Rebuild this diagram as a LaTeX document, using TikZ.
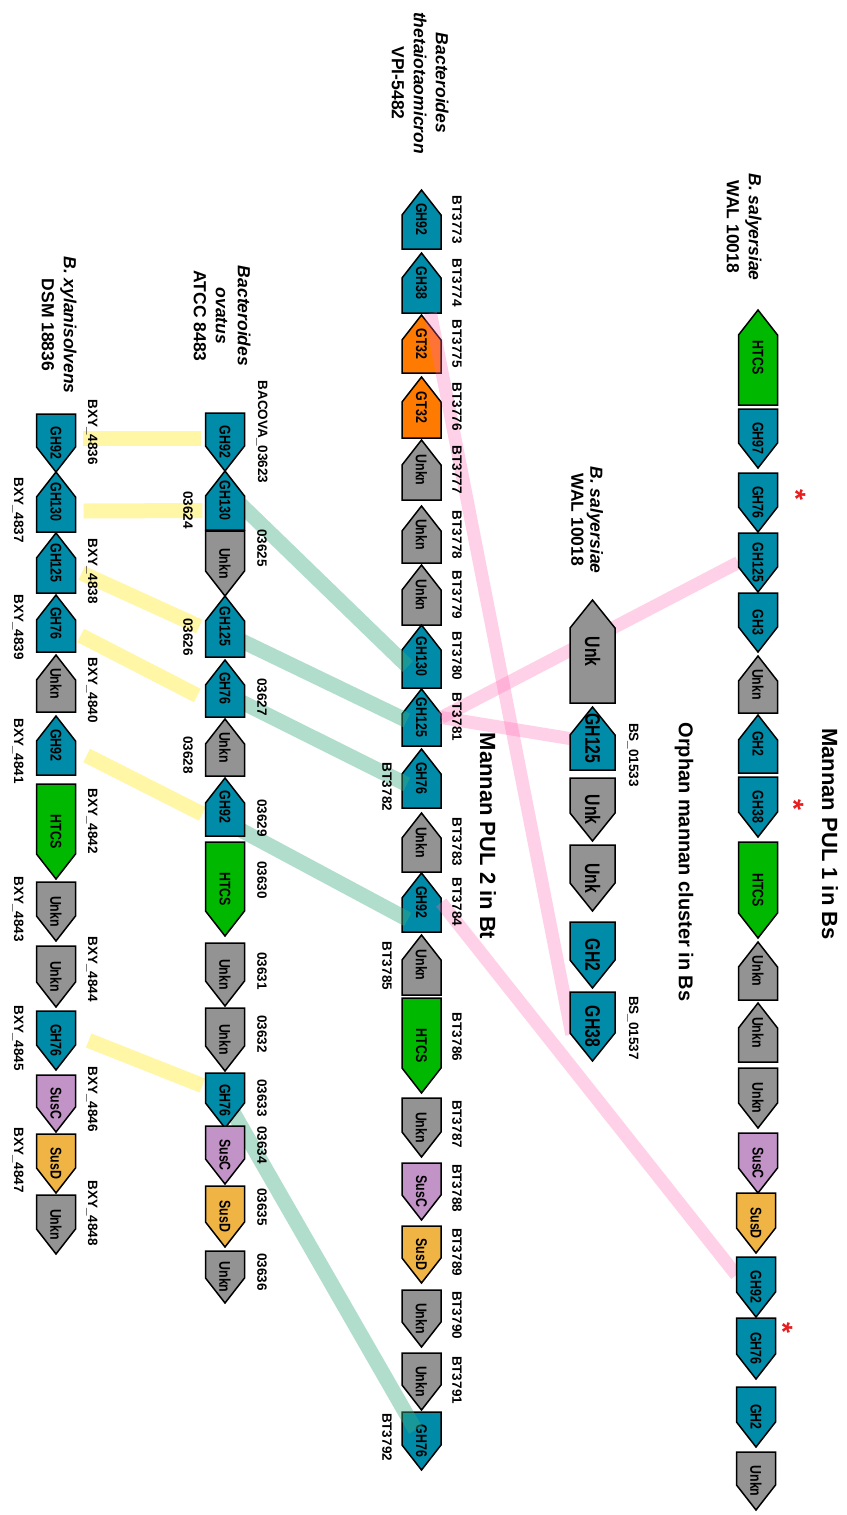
\documentclass[tikz,border=0pt]{standalone}
\usepackage{fontspec}
\setmainfont{Liberation Sans}
\usepackage{graphicx}
\usetikzlibrary{calc}
\definecolor{ghteal}{RGB}{0,140,168}
\definecolor{htcsgreen}{RGB}{0,184,0}
\definecolor{gtorange}{RGB}{255,122,0}
\definecolor{unkgray}{RGB}{147,147,147}
\definecolor{suscpurple}{RGB}{193,147,198}
\definecolor{susdgold}{RGB}{240,180,69}
\definecolor{linkpink}{RGB}{255,105,180}
\definecolor{linkgreen}{RGB}{60,170,130}
\definecolor{linkyellow}{RGB}{255,230,0}
\definecolor{starred}{RGB}{230,30,30}

\pgfdeclarelayer{btcol}
\pgfdeclarelayer{links}
\pgfsetlayers{btcol,links,main}

\tikzset{
  genebox/.style={draw=black, line width=1.5pt, line join=miter},
  genetxt/.style={inner sep=0pt, font=\fontsize{\gsz}{\gsz}\selectfont\bfseries},
  idtxt/.style={rotate=-90, inner sep=0pt, font=\fontsize{13.5}{14}\selectfont\bfseries},
  species/.style={rotate=-90, align=center, inner sep=0pt, font=\fontsize{17.5}{22}\selectfont\bfseries},
  titletxt/.style={rotate=-90, inner sep=0pt, font=\fontsize{22}{24}\selectfont\bfseries},
  astx/.style={rotate=-90, inner sep=0pt, text=starred, font=\fontsize{28}{28}\selectfont\bfseries},
  pinklink/.style={line width=13pt, linkpink, opacity=0.3},
  greenlink/.style={line width=15pt, linkgreen, opacity=0.4},
  yellowlink/.style={line width=15pt, linkyellow, opacity=0.35},
}

% arrow width, head length, label size and squeeze
\newcommand{\gw}{39}
\newcommand{\gh}{25}
\newcommand{\gsz}{15.5}
\newcommand{\gsc}{0.8}
% \gene{name}{x}{top}{bottom}{f|r}{colour}{label}
\newcommand{\gene}[7]{%
  \if#5f
    \draw[genebox, fill=#6] ({#2-\gw/2},#3) -- ({#2+\gw/2},#3) -- ({#2+\gw/2},{#4-\gh}) -- (#2,#4) -- ({#2-\gw/2},{#4-\gh}) -- cycle;
  \else
    \draw[genebox, fill=#6] (#2,#3) -- ({#2+\gw/2},{#3+\gh}) -- ({#2+\gw/2},#4) -- ({#2-\gw/2},#4) -- ({#2-\gw/2},{#3+\gh}) -- cycle;
  \fi
  \node[genetxt, minimum width=\gw pt, minimum height={(#4-#3)*1pt}] (#1) at (#2,{(#3+#4)/2}) {\rotatebox{-90}{\scalebox{\gsc}[1]{#7}}};
}

\begin{document}
\begin{tikzpicture}[x=1pt, y=-1pt]
  \useasboundingbox (0,0) rectangle (846,1515);

  \begin{pgfonlayer}{btcol}
  \fill[white] (0,0) rectangle (846,1515);
  % Mannan PUL 2, B. thetaiotaomicron
  \gene{b73}{421.5}{190}{249}{r}{ghteal}{GH92}
  \gene{b74}{421.5}{253}{313}{r}{ghteal}{GH38}
  \gene{b75}{421.5}{315}{373}{r}{gtorange}{GT32}
  \gene{b76}{421.5}{377}{438}{r}{gtorange}{GT32}
  \gene{b77}{421.5}{440}{500}{r}{unkgray}{Unkn}
  \gene{b78}{421.5}{506}{563}{r}{unkgray}{Unkn}
  \gene{b79}{421.5}{565}{625}{r}{unkgray}{Unkn}
  \gene{b80}{421.5}{625}{688}{r}{ghteal}{GH130}
  \gene{b81}{421.5}{689}{746}{r}{ghteal}{GH125}
  \gene{b82}{421.5}{749}{808}{r}{ghteal}{GH76}
  \gene{b83}{421.5}{813}{872}{r}{unkgray}{Unkn}
  \gene{b84}{421.5}{873}{932}{r}{ghteal}{GH92}
  \gene{b85}{421.5}{935}{995}{r}{unkgray}{Unkn}
  \gene{b86}{421.5}{998}{1093}{f}{htcsgreen}{HTCS}
  \gene{b87}{421.5}{1098}{1157}{f}{unkgray}{Unkn}
  \gene{b88}{421.5}{1163}{1220}{f}{suscpurple}{SusC}
  \gene{b89}{421.5}{1226}{1283}{f}{susdgold}{SusD}
  \gene{b90}{421.5}{1290}{1347}{f}{unkgray}{Unkn}
  \gene{b91}{421.5}{1353}{1410}{f}{unkgray}{Unkn}
  \gene{b92}{421.5}{1412}{1470}{f}{ghteal}{GH76}
  \end{pgfonlayer}

  % Mannan PUL 1, B. salyersiae
  \gene{p1}{758}{310}{405}{r}{htcsgreen}{HTCS}
  \gene{p2}{758}{409}{468}{f}{ghteal}{GH97}
  \gene{p3}{758}{473}{532}{f}{ghteal}{GH76}
  \gene{p4}{758}{533}{592}{f}{ghteal}{GH125}
  \gene{p5}{758}{593}{652}{f}{ghteal}{GH3}
  \gene{p6}{758}{656}{713}{r}{unkgray}{Unkn}
  \gene{p7}{758}{715}{773}{r}{ghteal}{GH2}
  \gene{p8}{758}{777}{837}{f}{ghteal}{GH38}
  \gene{p9}{758}{842}{938}{f}{htcsgreen}{HTCS}
  \gene{p10}{758}{942}{1000}{r}{unkgray}{Unkn}
  \gene{p11}{758}{1003}{1062}{r}{unkgray}{Unkn}
  \gene{p12}{758}{1068}{1128}{f}{unkgray}{Unkn}
  \gene{p13}{758}{1133}{1193}{f}{suscpurple}{SusC}
  \gene{p14}{756}{1193}{1253}{f}{susdgold}{SusD}
  \gene{p15}{756}{1257}{1317}{f}{ghteal}{GH92}
  \gene{p16}{756}{1318}{1379}{f}{ghteal}{GH76}
  \gene{p17}{756}{1387}{1447}{f}{ghteal}{GH2}
  \gene{p18}{756}{1452}{1510}{f}{unkgray}{Unkn}

  % B. ovatus
  \gene{o23}{225}{413}{471}{f}{ghteal}{GH92}
  \gene{o24}{225}{471}{530}{r}{ghteal}{GH130}
  \gene{o25}{225}{531}{596}{f}{unkgray}{Unkn}
  \gene{o26}{225}{596}{657}{r}{ghteal}{GH125}
  \gene{o27}{225}{660}{717}{r}{ghteal}{GH76}
  \gene{o28}{225}{719}{776}{r}{unkgray}{Unkn}
  \gene{o29}{225}{778}{836}{r}{ghteal}{GH92}
  \gene{o30}{225}{842}{936}{f}{htcsgreen}{HTCS}
  \gene{o31}{225}{943}{1006}{f}{unkgray}{Unkn}
  \gene{o32}{225}{1008}{1071}{f}{unkgray}{Unkn}
  \gene{o33}{225}{1073}{1128}{f}{ghteal}{GH76}
  \gene{o34}{225}{1126}{1184}{f}{suscpurple}{SusC}
  \gene{o35}{225}{1186}{1247}{f}{susdgold}{SusD}
  \gene{o36}{225}{1251}{1303}{f}{unkgray}{Unkn}

  % B. xylanisolvens
  \gene{x36}{56}{414}{472}{f}{ghteal}{GH92}
  \gene{x37}{56}{472}{532}{r}{ghteal}{GH130}
  \gene{x38}{56}{533}{593}{r}{ghteal}{GH125}
  \gene{x39}{56}{595}{652}{r}{ghteal}{GH76}
  \gene{x40}{56}{655}{712}{r}{unkgray}{Unkn}
  \gene{x41}{56}{716}{775}{r}{ghteal}{GH92}
  \gene{x42}{56}{784}{879}{f}{htcsgreen}{HTCS}
  \gene{x43}{56}{882}{941}{f}{unkgray}{Unkn}
  \gene{x44}{56}{946}{1007}{f}{unkgray}{Unkn}
  \gene{x45}{56}{1011}{1070}{f}{ghteal}{GH76}
  \gene{x46}{56}{1075}{1132}{f}{suscpurple}{SusC}
  \gene{x47}{56}{1134}{1193}{f}{susdgold}{SusD}
  \gene{x48}{56}{1195}{1254}{f}{unkgray}{Unkn}

  % orphan cluster, wider arrows
  \renewcommand{\gw}{45}\renewcommand{\gh}{28}
  \renewcommand{\gsz}{21}\renewcommand{\gsc}{0.75}
  \gene{c1}{592.5}{600}{703}{r}{unkgray}{Unk}
  \gene{c2}{592.5}{707}{770}{r}{ghteal}{GH125}
  \gene{c3}{592.5}{778}{841}{f}{unkgray}{Unk}
  \gene{c4}{592.5}{845}{911}{f}{unkgray}{Unk}
  \gene{c5}{592.5}{922}{988}{f}{ghteal}{GH2}
  \gene{c6}{592.5}{992}{1061}{f}{ghteal}{GH38}

  % homology links
  \begin{pgfonlayer}{links}
  \draw[yellowlink] ($(x36.east)+(7,-5)$) -- ($(o23.west)+(-4,-4)$);
  \draw[yellowlink] ($(x37.east)+(8,9)$) -- ($(o24.west)+(-3,10)$);
  \draw[yellowlink] ($(x38.east)+(6,10)$) -- ($(o26.west)+(-6,0)$);
  \draw[yellowlink] ($(x39.east)+(5,12)$) -- ($(o27.west)+(-8,7)$);
  \draw[yellowlink] ($(x41.east)+(11,10)$) -- ($(o29.west)+(-3,7)$);
  \draw[yellowlink] ($(x45.east)+(13,0)$) -- ($(o33.west)+(-3,-15)$);

  \draw[greenlink] ($(o24.east)+(-4,4)$) -- ($(b80.west)+(6,10)$);
  \draw[greenlink] ($(o26.east)+(-4,14)$) -- ($(b81.west)+(5,3)$);
  \draw[greenlink] ($(o27.east)+(-4,13)$) -- ($(b82.west)+(5,6)$);
  \draw[greenlink] ($(o29.east)+(-4,23)$) -- ($(b84.west)+(6,17)$);
  \draw[greenlink] ($(o33)+(7,10)$) -- ($(b92)+(-6,-11)$);

  \draw[pinklink] (p4.west) -- (b81.east);
  \draw[pinklink] (b81.east) -- (c2.west);
  \draw[pinklink] ($(b74.south)+(9,0)$) -- ($(c6.west)+(2,8)$);
  \draw[pinklink] (b84.east) -- ($(p15.west)+(0,-12)$);
  \end{pgfonlayer}

  % titles and strains
  \node[titletxt] (pul1) at (830,834) {Mannan PUL 1 in Bs};
  \node[titletxt, font=\fontsize{20}{22}\selectfont\bfseries] (orph) at (684,862) {Orphan mannan cluster in Bs};
  \node[titletxt] (pul2) at (488,836) {Mannan PUL 2 in Bt};
  \node[species] (bsal) at (744,227) {\textit{B. salyersiae}\\WAL 10018};
  \node[species, font=\fontsize{17.5}{19}\selectfont\bfseries] (bsal2) at (587,520) {\textit{B. salyersiae}\\WAL 10018};
  \node[species] (btheta) at (420,83) {\textit{Bacteroides}\\\textit{thetaiotaomicron}\\VPI-5482};
  \node[species] (bova) at (222,316) {\textit{Bacteroides}\\\textit{ovatus}\\ATCC 8483};
  \node[species] (bxyl) at (59,325) {\textit{B. xylanisolvens}\\DSM 18836};

  % starred genes
  \node[astx] (s1) at (796,495) {*};
  \node[astx] (s2) at (794,805) {*};
  \node[astx] (s3) at (783,1328) {*};

  % locus tags
  \node[idtxt] (l01533) at (633,755) {BS\_01533};
  \node[idtxt] (l01537) at (633,1028) {BS\_01537};

  \node[idtxt] (t73) at (457,220) {BT3773};
  \node[idtxt] (t74) at (457,283) {BT3774};
  \node[idtxt] (t75) at (457,344) {BT3775};
  \node[idtxt] (t76) at (457,407) {BT3776};
  \node[idtxt] (t77) at (457,470) {BT3777};
  \node[idtxt] (t78) at (457,535) {BT3778};
  \node[idtxt] (t79) at (457,595) {BT3779};
  \node[idtxt] (t80) at (457,656) {BT3780};
  \node[idtxt] (t81) at (457,717) {BT3781};
  \node[idtxt] (t82) at (387,787) {BT3782};
  \node[idtxt] (t83) at (457,842) {BT3783};
  \node[idtxt] (t84) at (457,902) {BT3784};
  \node[idtxt] (t85) at (387,966) {BT3785};
  \node[idtxt] (t86) at (457,1037) {BT3786};
  \node[idtxt] (t87) at (457,1124) {BT3787};
  \node[idtxt] (t88) at (457,1188) {BT3788};
  \node[idtxt] (t89) at (457,1252) {BT3789};
  \node[idtxt] (t90) at (457,1315) {BT3790};
  \node[idtxt] (t91) at (457,1380) {BT3791};
  \node[idtxt] (t92) at (387,1437) {BT3792};

  \node[idtxt] (v23) at (262,432) {BACOVA\_03623};
  \node[idtxt] (v24) at (188,510) {03624};
  \node[idtxt] (v25) at (262,548) {03625};
  \node[idtxt] (v26) at (188,637) {03626};
  \node[idtxt] (v27) at (262,697) {03627};
  \node[idtxt] (v28) at (188,755) {03628};
  \node[idtxt] (v29) at (262,818) {03629};
  \node[idtxt] (v30) at (262,880) {03630};
  \node[idtxt] (v31) at (262,971) {03631};
  \node[idtxt] (v32) at (262,1034) {03632};
  \node[idtxt] (v33) at (262,1098) {03633};
  \node[idtxt] (v34) at (262,1145) {03634};
  \node[idtxt] (v35) at (262,1207) {03635};
  \node[idtxt] (v36) at (262,1272) {03636};

  \node[idtxt] (y36) at (92,432) {BXY\_4836};
  \node[idtxt] (y37) at (18,510) {BXY\_4837};
  \node[idtxt] (y38) at (92,571) {BXY\_4838};
  \node[idtxt] (y39) at (18,627) {BXY\_4839};
  \node[idtxt] (y40) at (92,690) {BXY\_4840};
  \node[idtxt] (y41) at (18,751) {BXY\_4841};
  \node[idtxt] (y42) at (92,821) {BXY\_4842};
  \node[idtxt] (y43) at (18,909) {BXY\_4843};
  \node[idtxt] (y44) at (92,969) {BXY\_4844};
  \node[idtxt] (y45) at (18,1038) {BXY\_4845};
  \node[idtxt] (y46) at (92,1099) {BXY\_4846};
  \node[idtxt] (y47) at (18,1160) {BXY\_4847};
  \node[idtxt] (y48) at (92,1213) {BXY\_4848};
\end{tikzpicture}
\end{document}
